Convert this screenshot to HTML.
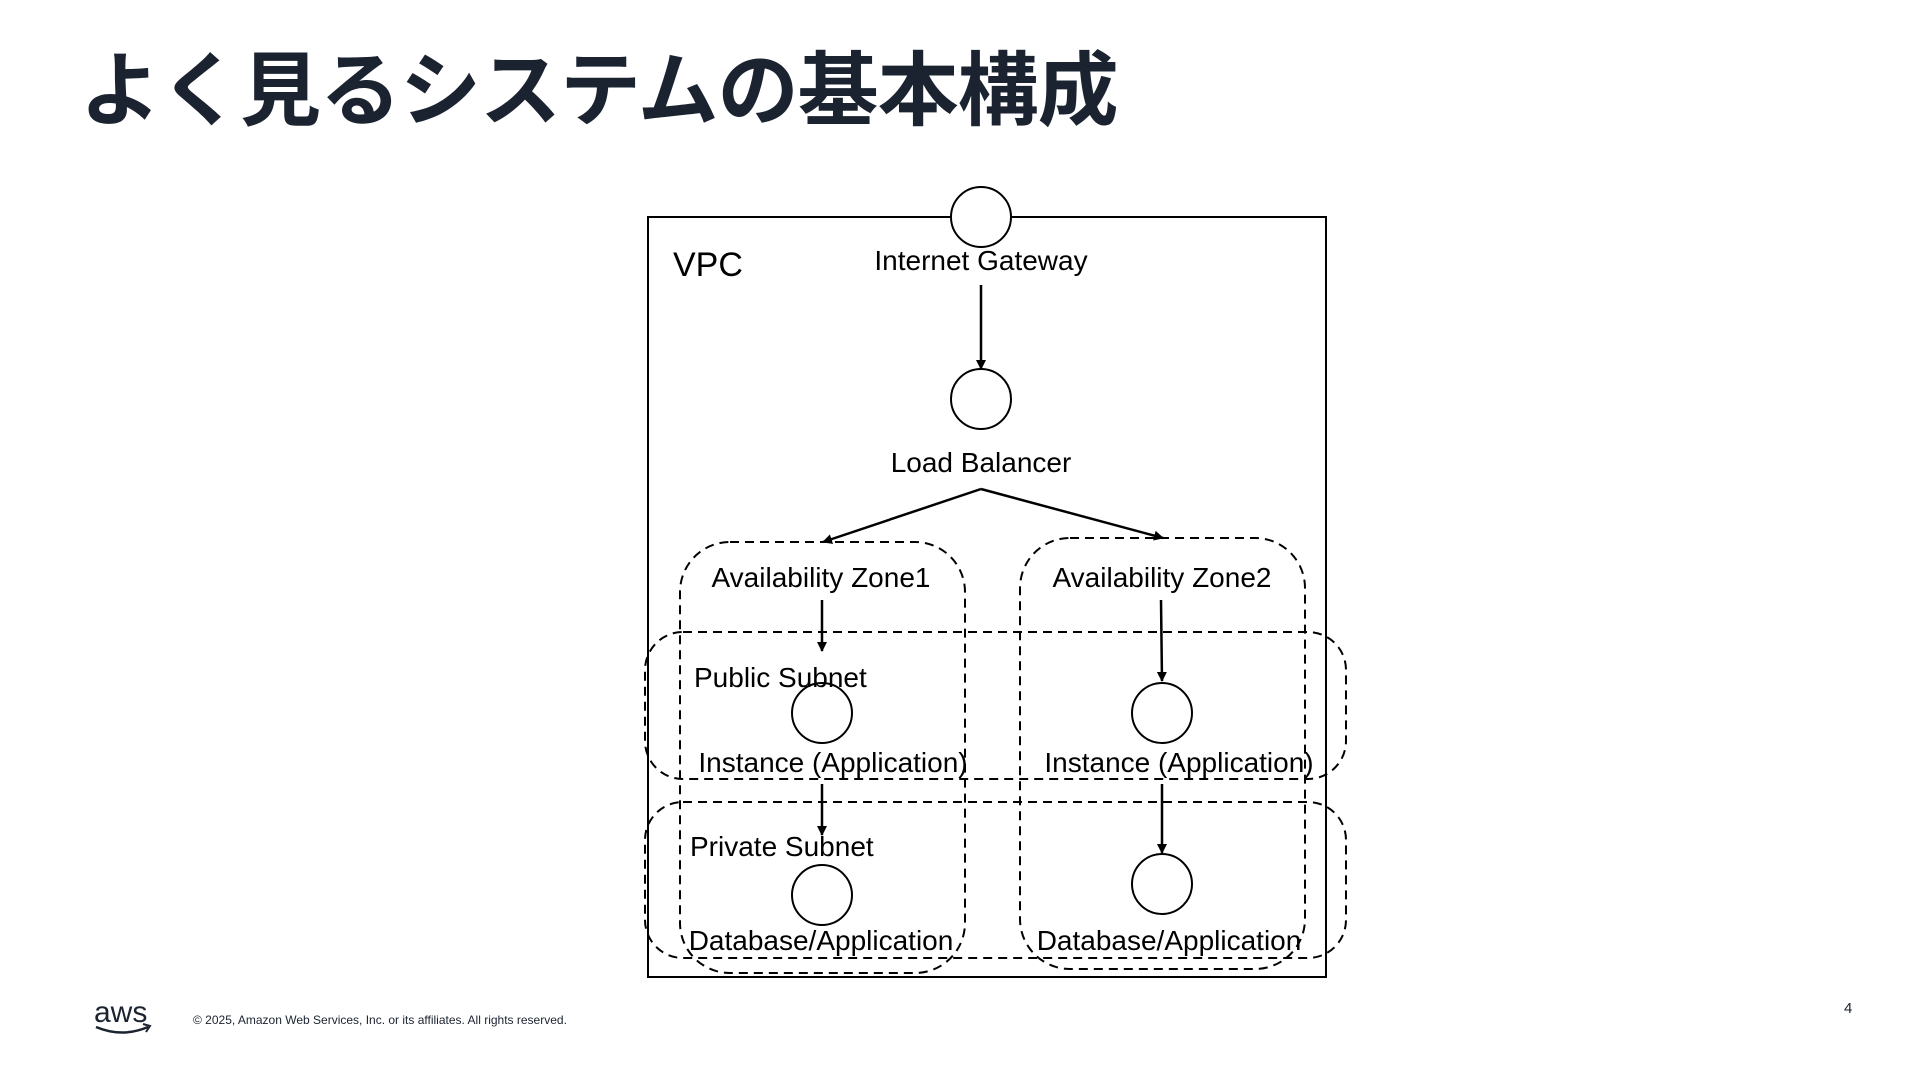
<!DOCTYPE html>
<html><head><meta charset="utf-8"><style>
html,body{margin:0;padding:0;background:#fff;}
body{width:1920px;height:1080px;position:relative;overflow:hidden;font-family:"Liberation Sans","Noto Sans CJK JP",sans-serif;}
.title{position:absolute;left:80px;top:26px;font-size:81px;font-weight:bold;color:#1b2330;letter-spacing:-1px;white-space:nowrap;font-family:"Noto Sans CJK JP","Liberation Sans",sans-serif;}
</style></head><body>
<div class="title">よく見るシステムの基本構成</div>
<svg width="1920" height="1080" style="position:absolute;left:0;top:0" font-family="Liberation Sans, sans-serif">
<defs><marker id="a" markerWidth="10" markerHeight="10" refX="9" refY="5" orient="auto" markerUnits="userSpaceOnUse"><path d="M0,0 L10,5 L0,10 z" fill="#000"/></marker></defs>
<g fill="none" stroke="#000" stroke-width="2">
<rect x="648" y="217" width="678" height="760"/>
<g stroke-dasharray="9,6">
<rect x="680" y="542" width="285" height="431" rx="50"/>
<rect x="1020" y="538" width="285" height="431" rx="50"/>
<rect x="645" y="632" width="701" height="147" rx="38"/>
<rect x="645" y="802" width="701" height="156" rx="38"/>
</g>
<ellipse cx="981" cy="217" rx="30" ry="30" fill="#fff"/>
<ellipse cx="981" cy="399" rx="30" ry="30"/>
<ellipse cx="822" cy="713" rx="30" ry="30"/>
<ellipse cx="1162" cy="713" rx="30" ry="30"/>
<ellipse cx="822" cy="895" rx="30" ry="30"/>
<ellipse cx="1162" cy="884" rx="30" ry="30"/>
<g marker-end="url(#a)" stroke-width="2.5">
<line x1="981" y1="285" x2="981" y2="369"/>
<line x1="981" y1="489" x2="823" y2="542"/>
<line x1="981" y1="489" x2="1163" y2="538"/>
<line x1="822" y1="600" x2="822" y2="651"/>
<line x1="1161" y1="600" x2="1162" y2="681"/>
<line x1="822" y1="784" x2="822" y2="835"/>
<line x1="1162" y1="784" x2="1162" y2="853"/>
</g>
</g>
<g font-size="28" fill="#000" text-anchor="middle">
<text x="673" y="276" font-size="34" text-anchor="start">VPC</text>
<text x="981" y="270">Internet Gateway</text>
<text x="981" y="472">Load Balancer</text>
<text x="821" y="587">Availability Zone1</text>
<text x="1162" y="587">Availability Zone2</text>
<text x="694" y="687" text-anchor="start">Public Subnet</text>
<text x="690" y="856" text-anchor="start">Private Subnet</text>
<text x="833" y="772">Instance (Application)</text>
<text x="1179" y="772">Instance (Application)</text>
<text x="821" y="950">Database/Application</text>
<text x="1169" y="950">Database/Application</text>
</g>
<text x="94" y="1022" font-size="30" fill="#1b2330">aws</text>
<path d="M96,1027 Q122,1038 148,1027" fill="none" stroke="#1b2330" stroke-width="2.5"/>
<path d="M143,1024 L150,1026 L146,1032" fill="none" stroke="#1b2330" stroke-width="2"/>
<text x="193" y="1024" font-size="12" fill="#1b2330">© 2025, Amazon Web Services, Inc. or its affiliates. All rights reserved.</text>
<text x="1844" y="1013" font-size="15" fill="#1b2330">4</text>
</svg>
</body></html>
